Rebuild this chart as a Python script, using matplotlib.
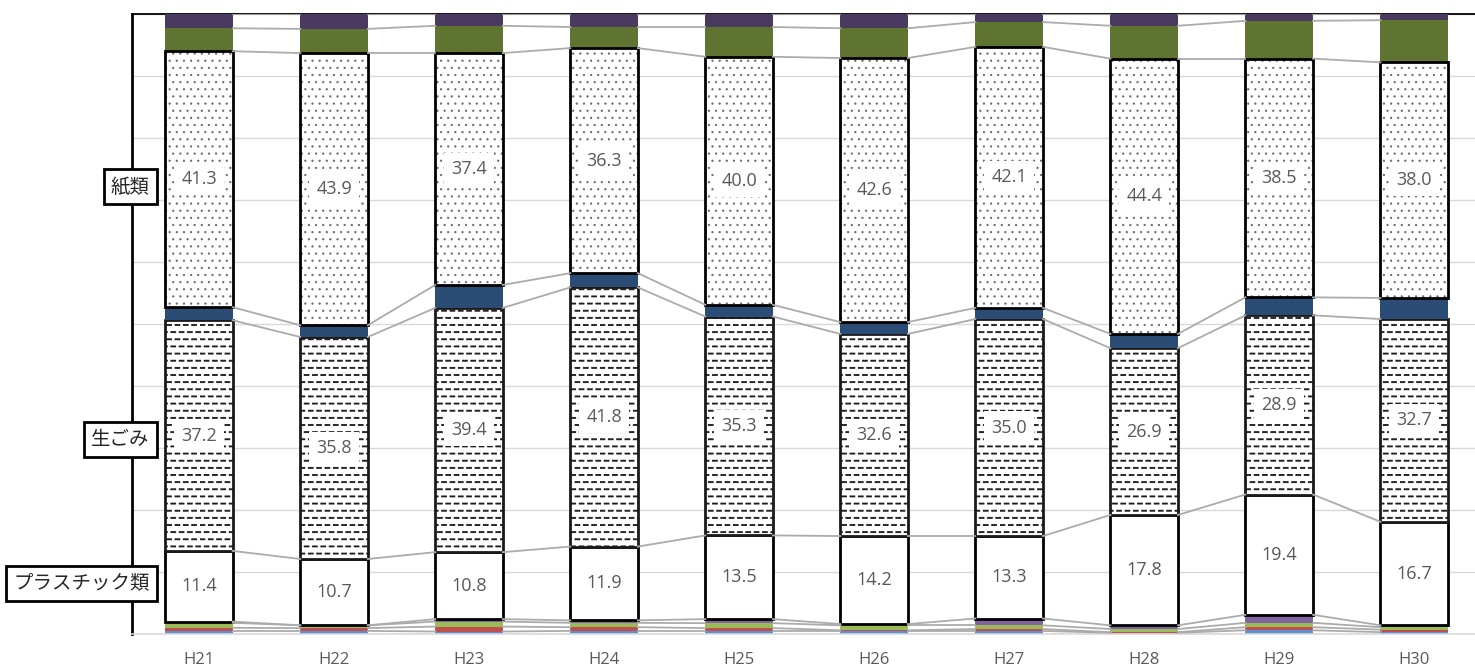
import warnings
import numpy as np
import matplotlib
matplotlib.use('Agg')
import matplotlib.pyplot as plt
from matplotlib import hatch as mhatch
from matplotlib.path import Path

warnings.filterwarnings('ignore')

# data (composition %, bottom to top)
years = ['H21', 'H22', 'H23', 'H24', 'H25', 'H26', 'H27', 'H28', 'H29', 'H30']
blue = [0.5, 0.5, 0.4, 0.5, 0.5, 0.5, 0.5, 0.2, 0.6, 0.3]
red = [0.5, 0.45, 0.8, 0.6, 0.45, 0.1, 0.3, 0.1, 0.5, 0.4]
green = [0.8, 0.45, 0.8, 0.7, 0.8, 0.8, 0.6, 0.5, 0.7, 0.4]
purple = [0.2, 0.0, 0.4, 0.4, 0.65, 0.2, 1.1, 0.6, 1.3, 0.3]
plastic = [11.4, 10.7, 10.8, 11.9, 13.5, 14.2, 13.3, 17.8, 19.4, 16.7]
food = [37.2, 35.8, 39.4, 41.8, 35.3, 32.6, 35.0, 26.9, 28.9, 32.7]
navy = [2.1, 1.9, 3.7, 2.3, 1.9, 1.9, 1.8, 2.3, 2.9, 3.4]
paper = [41.3, 43.9, 37.4, 36.3, 40.0, 42.6, 42.1, 44.4, 38.5, 38.0]
olive = [3.7, 3.9, 4.4, 3.4, 4.8, 4.8, 4.0, 5.3, 6.1, 6.8]
plum = [2.3, 2.4, 1.9, 2.1, 2.1, 2.3, 1.3, 1.9, 1.1, 1.0]

cat_names = ['紙類', '生ごみ', 'プラスチック類']
cat_label_y = [72.1, 31.3, 8.2]


# custom hatches: staggered short dashes ('_') and staggered dots (':')
class DashRows(mhatch.HatchPatternBase):
    def __init__(self, hatch, density):
        rows = hatch.count('_') * 14
        cols = 12
        self.rects = []
        for i in range(rows):
            y = (i + 0.5) / rows
            shift = 0.5 / cols if i % 2 else 0.0
            for j in range(cols):
                x0 = j / cols + shift
                x1 = x0 + 0.58 / cols
                if x1 <= 1:
                    self.rects.append((x0, x1, y))
                else:
                    self.rects.append((x0, 1.0, y))
                    self.rects.append((0.0, x1 - 1, y))
        self.num_vertices = len(self.rects) * 5

    def set_vertices_and_codes(self, vertices, codes):
        h = 0.005
        for k, (x0, x1, y) in enumerate(self.rects):
            vertices[5*k:5*k+5] = [(x0, y-h), (x1, y-h), (x1, y+h), (x0, y+h), (x0, y-h)]
            codes[5*k:5*k+5] = [Path.MOVETO, Path.LINETO, Path.LINETO,
                                Path.LINETO, Path.CLOSEPOLY]


class DotGrid(mhatch.HatchPatternBase):
    def __init__(self, hatch, density):
        n = hatch.count(':')
        self.centers = []
        rows, cols = 14 * n, 14
        for i in range(rows):
            for j in range(cols):
                self.centers.append(((j + 0.25 + 0.5 * (i % 2)) / cols, (i + 0.5) / rows))
        self.circle = Path.unit_circle()
        self.num_vertices = len(self.centers) * len(self.circle.vertices)

    def set_vertices_and_codes(self, vertices, codes):
        m = len(self.circle.vertices)
        for k, (cx, cy) in enumerate(self.centers):
            vertices[m*k:m*(k+1)] = self.circle.vertices * 0.007 + (cx, cy)
            codes[m*k:m*(k+1)] = self.circle.codes


mhatch._hatch_types.extend([DashRows, DotGrid])

plt.rcParams['font.family'] = ['Noto Sans CJK JP', 'DejaVu Sans']
plt.rcParams['hatch.linewidth'] = 0.6

fig = plt.figure(figsize=(14.75, 6.71), dpi=100)
ax = fig.add_axes([131.5/1475, 37/671, 1343.5/1475, 620/671])

x = np.arange(len(years))
w = 0.5

layers = [
    (blue, dict(color='#5B8FD0')),
    (red, dict(color='#C0504D')),
    (green, dict(color='#9BBB59')),
    (purple, dict(color='#8064A2')),
    (plastic, dict(facecolor='white', edgecolor='black', linewidth=2)),
    (food, dict(facecolor='white', edgecolor='#1A1A1A', linewidth=2, hatch='_')),
    (navy, dict(color='#2B4C74')),
    (paper, 'dots'),
    (olive, dict(color='#5F7430')),
    (plum, dict(color='#4B3A60')),
]

bottom = np.zeros(len(years))
tops = []
for vals, style in layers:
    vals = np.array(vals)
    if style == 'dots':
        ax.bar(x, vals, w, bottom=bottom, facecolor='white', edgecolor='#6A6A6A',
               linewidth=0, hatch=':', zorder=2)
        ax.bar(x, vals, w, bottom=bottom, facecolor='none', edgecolor='black',
               linewidth=2, zorder=2.1)
    else:
        ax.bar(x, vals, w, bottom=bottom, zorder=2, **style)
    bottom = bottom + vals
    tops.append(bottom.copy())

# series lines between bars
for top in tops:
    for i in range(len(x) - 1):
        ax.plot([x[i] + w/2, x[i+1] - w/2], [top[i], top[i+1]],
                color='#ABABAB', lw=1.3, zorder=3)

# value labels
base_plastic = np.array(blue) + np.array(red) + np.array(green) + np.array(purple)
for series, base in [(plastic, base_plastic),
                     (food, base_plastic + np.array(plastic)),
                     (paper, base_plastic + np.array(plastic) + np.array(food) + np.array(navy))]:
    for i, v in enumerate(series):
        ax.text(x[i], base[i] + v/2, f'{v:.1f}', ha='center', va='center',
                fontsize=13, family=['Open Sans', 'DejaVu Sans'], color='#595959', zorder=5,
                bbox=dict(boxstyle='square,pad=0.4', fc='white', ec='none'))

# category labels on the left
for name, yy in zip(cat_names, cat_label_y):
    ax.text(-0.365, yy, name, ha='right', va='center', fontsize=14, color='#262626',
            zorder=10, clip_on=False,
            bbox=dict(boxstyle='square,pad=0.36', fc='white', ec='black', lw=2))

ax.set_xlim(-0.5, 9.45)
ax.set_ylim(0, 100)
ax.set_yticks(np.arange(0, 101, 10))
ax.yaxis.grid(True, color='#D9D9D9', lw=1)
ax.set_axisbelow(True)
ax.tick_params(axis='y', length=0, labelleft=False)
ax.set_xticks(x, years)
ax.tick_params(axis='x', length=0, pad=13, labelsize=12)
for lbl in ax.get_xticklabels():
    lbl.set_color('#595959')
    lbl.set_family(['Open Sans', 'DejaVu Sans'])

ax.spines['right'].set_visible(False)
ax.spines['left'].set_color('black')
ax.spines['left'].set_linewidth(2)
ax.spines['top'].set_color('black')
ax.spines['top'].set_linewidth(1.3)
ax.spines['top'].set_zorder(0.6)
ax.spines['bottom'].set_color('#D9D9D9')
ax.spines['bottom'].set_linewidth(1.2)

fig.savefig('out.png', dpi=100)
